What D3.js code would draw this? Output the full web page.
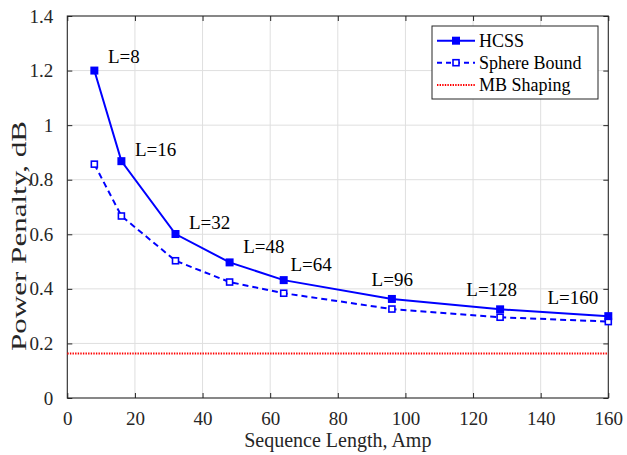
<!DOCTYPE html>
<html><head><meta charset="utf-8">
<script src="https://cdn.jsdelivr.net/npm/d3@7"></script>
<style>body{margin:0;background:#fff} svg text{font-family:"Liberation Serif","Times New Roman","DejaVu Serif",serif !important;fill:#262626}</style>
</head><body><svg id="c" width="627" height="455" style="font-family:'Liberation Serif'"></svg>
<script>
const lengths = [8, 16, 32, 48, 64, 96, 128, 160];
const hcss = [1.2, 0.868, 0.601, 0.497, 0.432, 0.363, 0.325, 0.300];
const sphere = [0.857, 0.667, 0.503, 0.425, 0.384, 0.326, 0.296, 0.280];
const mbShaping = 0.163;
const xTicks = [0, 20, 40, 60, 80, 100, 120, 140, 160];
const yTicks = [0, 0.2, 0.4, 0.6, 0.8, 1, 1.2, 1.4];
const labelText = ["L=8", "L=16", "L=32", "L=48", "L=64", "L=96", "L=128", "L=160"];
const labelX = [12, 20, 36, 52, 66, 90, 118, 142];
const labelY = [1.25, 0.909, 0.641, 0.553, 0.487, 0.432, 0.396, 0.369];
const seriesNames = ["HCSS", "Sphere Bound", "MB Shaping"];

const FONT = "'Liberation Serif', 'Times New Roman', serif";
const svg = d3.select("#c");
const L = 67.3, R = 608.3, T = 16, B = 398;
const x = d3.scaleLinear().domain([0, 160]).range([L, R]);
const y = d3.scaleLinear().domain([0, 1.4]).range([B, T]);
const axisCol = "#262626";

// grid
svg.append("g").selectAll("line").data(xTicks.slice(1, -1)).join("line")
  .attr("x1", d => x(d)).attr("x2", d => x(d)).attr("y1", T).attr("y2", B)
  .attr("stroke", "#dfdfdf").attr("stroke-width", 1);
svg.append("g").selectAll("line").data(yTicks.slice(1, -1)).join("line")
  .attr("y1", d => y(d)).attr("y2", d => y(d)).attr("x1", L).attr("x2", R)
  .attr("stroke", "#dfdfdf").attr("stroke-width", 1);

// axes with inward ticks
const fmt = d => String(d);
const gx = svg.append("g").attr("transform", `translate(0,${B})`)
  .call(d3.axisBottom(x).tickValues(xTicks).tickFormat(fmt).tickSizeInner(-5).tickSizeOuter(0).tickPadding(14));
const gxt = svg.append("g").attr("transform", `translate(0,${T})`)
  .call(d3.axisTop(x).tickValues(xTicks).tickFormat("").tickSizeInner(-5).tickSizeOuter(0));
const gy = svg.append("g").attr("transform", `translate(${L},0)`)
  .call(d3.axisLeft(y).tickValues(yTicks).tickFormat(fmt).tickSizeInner(-5).tickSizeOuter(0).tickPadding(14));
const gyr = svg.append("g").attr("transform", `translate(${R},0)`)
  .call(d3.axisRight(y).tickValues(yTicks).tickFormat("").tickSizeInner(-5).tickSizeOuter(0));
[gx, gxt, gy, gyr].forEach(g => {
  g.attr("font-family", FONT).attr("font-size", 19);
  g.select(".domain").remove();
  g.selectAll(".tick line").attr("stroke", axisCol).attr("stroke-width", 1);
  g.selectAll("text").style("font-family", FONT).style("font-size", "19px").style("fill", axisCol);
});
gx.selectAll("text").attr("dy", "0.71em");
svg.append("rect").attr("x", L).attr("y", T).attr("width", R - L).attr("height", B - T)
  .attr("fill", "none").attr("stroke", axisCol).attr("stroke-width", 1.1);

// MB shaping line
svg.append("line").attr("x1", x(0)).attr("x2", x(160)).attr("y1", y(mbShaping)).attr("y2", y(mbShaping))
  .attr("stroke", "#ff0000").attr("stroke-width", 1.8).attr("stroke-dasharray", "1.4,1.2");

const line = d3.line().x((d, i) => x(lengths[i])).y(d => y(d));
// sphere bound
svg.append("path").datum(sphere).attr("d", line).attr("fill", "none")
  .attr("stroke", "#0000ff").attr("stroke-width", 2).attr("stroke-dasharray", "6,4");
svg.append("g").selectAll("rect").data(sphere).join("rect")
  .attr("x", (d, i) => x(lengths[i]) - 3).attr("y", d => y(d) - 3).attr("width", 6).attr("height", 6)
  .attr("fill", "#fff").attr("stroke", "#0000ff").attr("stroke-width", 1.6);
// HCSS
svg.append("path").datum(hcss).attr("d", line).attr("fill", "none")
  .attr("stroke", "#0000ff").attr("stroke-width", 2);
svg.append("g").selectAll("rect").data(hcss).join("rect")
  .attr("x", (d, i) => x(lengths[i]) - 4).attr("y", d => y(d) - 4).attr("width", 8).attr("height", 8)
  .attr("fill", "#0000ff");

// annotations
svg.append("g").selectAll("text").data(labelText).join("text")
  .attr("x", (d, i) => x(labelX[i])).attr("y", (d, i) => y(labelY[i])).attr("dy", "0.33em")
  .style("font-family", FONT).style("font-size", "19px").style("fill", "#000").text(d => d);

// axis titles
svg.append("text").attr("x", (L + R) / 2).attr("y", 447).attr("text-anchor", "middle")
  .style("font-family", FONT).style("font-size", "20px").text("Sequence Length, Amp");
svg.append("text").attr("transform", `translate(26,236) rotate(-90)`).attr("text-anchor", "middle")
  .attr("textLength", 230).attr("lengthAdjust", "spacingAndGlyphs")
  .style("font-family", FONT).style("font-size", "21px").text("Power Penalty, dB");

// legend
const lg = svg.append("g");
lg.append("rect").attr("x", 432).attr("y", 26).attr("width", 166).attr("height", 73)
  .attr("fill", "#fff").attr("stroke", axisCol).attr("stroke-width", 1);
const ly = [40.7, 62.7, 85];
const styles = [
  {dash: null, col: "#0000ff", w: 2, mk: "fill"},
  {dash: "5,4", col: "#0000ff", w: 2, mk: "open"},
  {dash: "1.4,1.2", col: "#ff0000", w: 1.8, mk: null}
];
seriesNames.forEach((n, i) => {
  const s = styles[i];
  const ln = lg.append("line").attr("x1", 437).attr("x2", 475).attr("y1", ly[i]).attr("y2", ly[i])
    .attr("stroke", s.col).attr("stroke-width", s.w);
  if (s.dash) ln.attr("stroke-dasharray", s.dash);
  if (s.mk === "fill") lg.append("rect").attr("x", 452).attr("y", ly[i] - 4).attr("width", 8).attr("height", 8).attr("fill", s.col);
  if (s.mk === "open") lg.append("rect").attr("x", 453).attr("y", ly[i] - 3).attr("width", 6).attr("height", 6)
    .attr("fill", "#fff").attr("stroke", s.col).attr("stroke-width", 1.6);
  lg.append("text").attr("x", 479).attr("y", ly[i]).attr("dy", "0.35em")
    .style("font-family", FONT).style("font-size", "18px").style("fill", "#000").text(n);
});
</script></body></html>
